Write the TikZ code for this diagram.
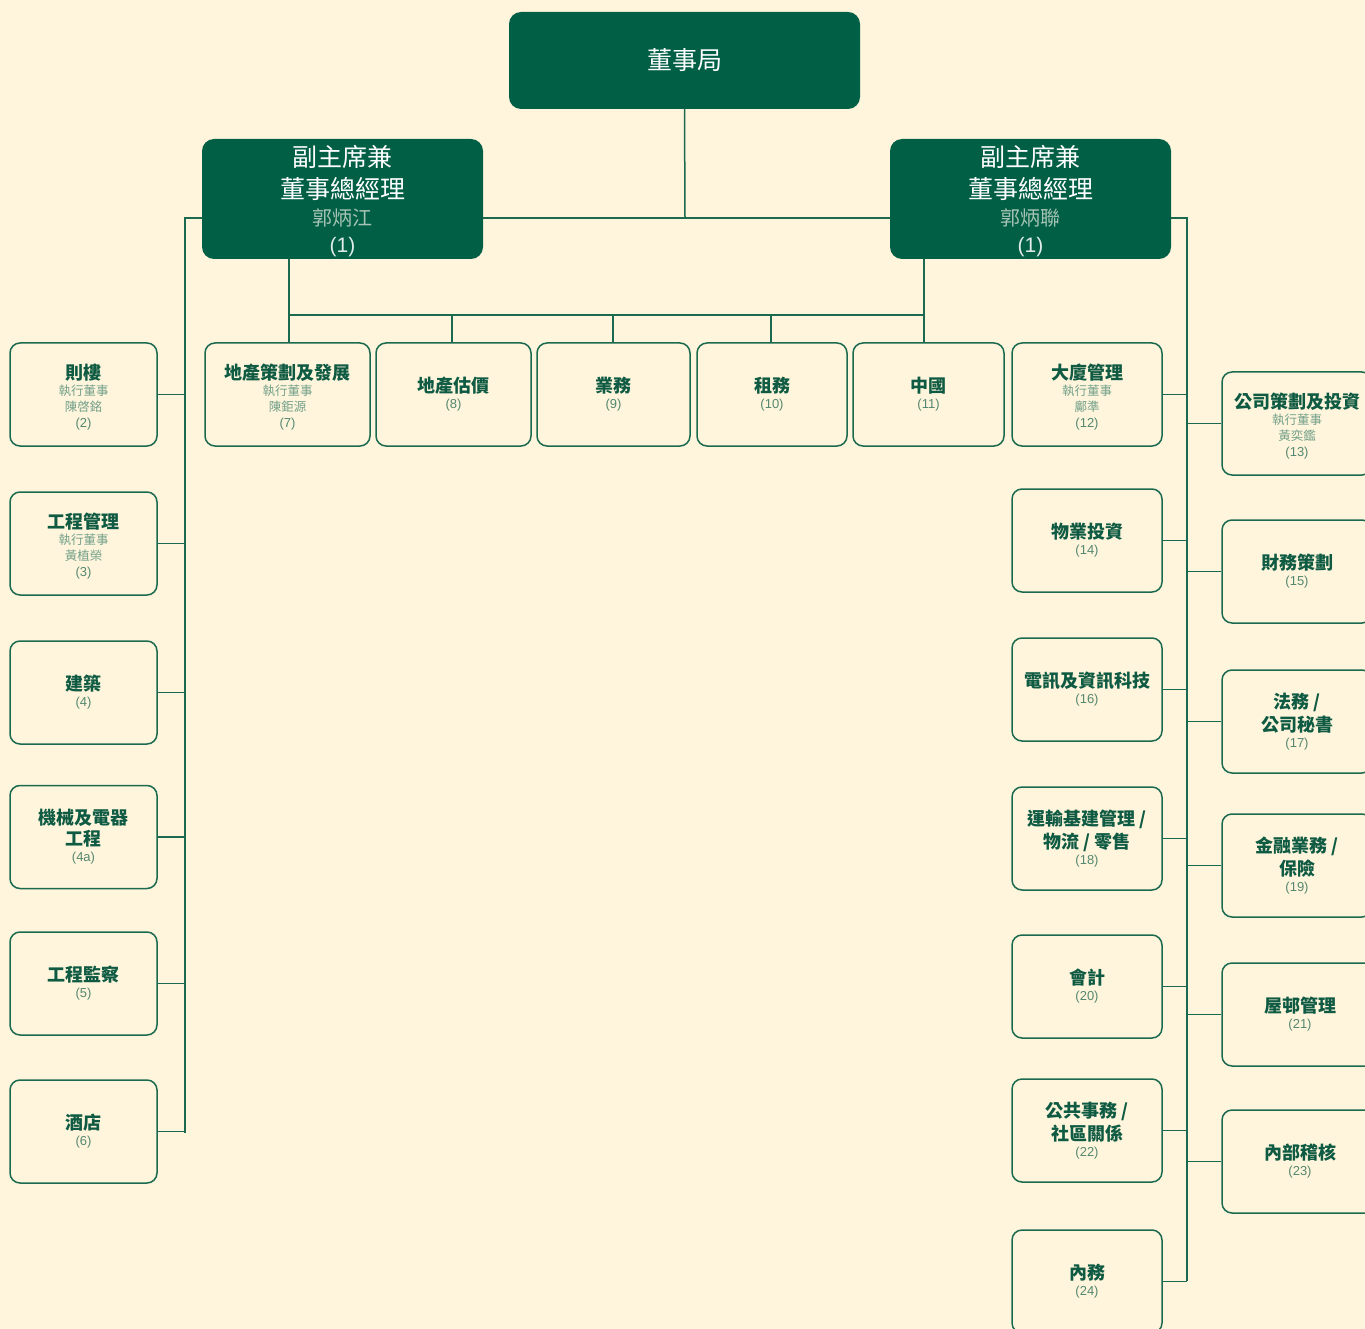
\documentclass[tikz,border=0pt]{standalone}
\usepackage{fontspec}
\setmainfont{Noto Sans CJK TC}
\newfontfamily\arialf{Liberation Sans}
\definecolor{bgc}{HTML}{FEF5DC}
\definecolor{darkg}{HTML}{015F46}
\definecolor{linec}{HTML}{1B6A50}
\definecolor{ttlc}{HTML}{0F5A42}
\definecolor{subc}{HTML}{74A08A}
\definecolor{numc}{HTML}{55876F}
\definecolor{vpname}{HTML}{A6C4B3}
\newcommand\ttl{\fontsize{18}{20}\selectfont\bfseries\color{ttlc}}
\newcommand\ttlx{\ttl\rule{0pt}{20pt}}
\newcommand\sbt{\fontsize{12.5}{16}\selectfont\color{subc}}
\newcommand\nmb{\arialf\fontsize{13}{16}\selectfont\color{numc}}
\newcommand\vpt{\fontsize{25}{32}\selectfont\color{white}}
\newcommand\vpn{\fontsize{20}{27}\selectfont\color{vpname}}
\newcommand\vpo{\arialf\fontsize{21}{27}\selectfont\color{white!88!darkg}}
\tikzset{
  unitbox/.style={draw=linec, line width=1.5pt, rounded corners=10pt, fill=bgc,
    align=center, inner sep=0pt, minimum height=103pt, font=\fontsize{13}{16}\selectfont},
  darkbox/.style={fill=darkg, rounded corners=12pt, align=center, inner sep=0pt,
    font=\fontsize{20}{27}\selectfont},
  conn/.style={draw=linec, line width=1.5pt}
}
\begin{document}
\begin{tikzpicture}[x=1pt,y=-1pt]
\fill[bgc] (0,0) rectangle (1365,1329);
\clip (0,0) rectangle (1365,1329);
\useasboundingbox (0,0) rectangle (1365,1329);

% top boxes
\node[darkbox, minimum width=351pt, minimum height=97pt] (board) at (684.5,60.5)
  {\fontsize{25}{30}\selectfont\color{white}董事局};
\node[darkbox, minimum width=281pt, minimum height=120pt] (vpl) at (342.5,199)
  {{\vpt\rule{0pt}{26pt}副主席兼}\\[5pt]{\vpt 董事總經理}\\{\vpn 郭炳江}\\{\vpo (1)}};
\node[darkbox, minimum width=281pt, minimum height=120pt] (vpr) at (1030.5,199)
  {{\vpt\rule{0pt}{26pt}副主席兼}\\[5pt]{\vpt 董事總經理}\\{\vpn 郭炳聯}\\{\vpo (1)}};

% left column
\node[unitbox, minimum width=147pt] (l2) at (83.5,394.5)
  {{\ttlx 則樓}\\{\sbt 執行董事}\\{\sbt 陳啓銘}\\{\nmb (2)}};
\node[unitbox, minimum width=147pt] (l3) at (83.5,543.5)
  {{\ttlx 工程管理}\\{\sbt 執行董事}\\{\sbt 黃植榮}\\{\nmb (3)}};
\node[unitbox, minimum width=147pt] (l4) at (83.5,692.5)
  {{\ttl 建築}\\{\nmb (4)}};
\node[unitbox, minimum width=147pt] (l4a) at (83.5,837)
  {{\ttl 機械及電器}\\[3pt]{\ttl 工程}\\{\nmb (4a)}};
\node[unitbox, minimum width=147pt] (l5) at (83.5,983.5)
  {{\ttl 工程監察}\\{\nmb (5)}};
\node[unitbox, minimum width=147pt] (l6) at (83.5,1131.5)
  {{\ttl 酒店}\\{\nmb (6)}};

% middle row
\node[unitbox, minimum width=165pt] (m7) at (287.5,394.5)
  {{\ttlx 地產策劃及發展}\\{\sbt 執行董事}\\{\sbt 陳鉅源}\\{\nmb (7)}};
\node[unitbox, minimum width=155pt] (m8) at (453.5,394.5)
  {{\ttl 地產估價}\\{\nmb (8)}};
\node[unitbox, minimum width=153pt] (m9) at (613.5,394.5)
  {{\ttl 業務}\\{\nmb (9)}};
\node[unitbox, minimum width=150pt] (m10) at (772,394.5)
  {{\ttl 租務}\\{\nmb (10)}};
\node[unitbox, minimum width=151pt] (m11) at (928.5,394.5)
  {{\ttl 中國}\\{\nmb (11)}};

% right inner column
\node[unitbox, minimum width=150pt] (r12) at (1087,394.5)
  {{\ttlx 大廈管理}\\{\sbt 執行董事}\\{\sbt 鄺準}\\{\nmb (12)}};
\node[unitbox, minimum width=150pt] (r14) at (1087,540.5)
  {{\ttl 物業投資}\\{\nmb (14)}};
\node[unitbox, minimum width=150pt] (r16) at (1087,689.5)
  {{\ttl 電訊及資訊科技}\\{\nmb (16)}};
\node[unitbox, minimum width=150pt] (r18) at (1087,838.5)
  {{\ttl 運輸基建管理 /}\\[3pt]{\ttl 物流 / 零售}\\{\nmb (18)}};
\node[unitbox, minimum width=150pt] (r20) at (1087,986.5)
  {{\ttl 會計}\\{\nmb (20)}};
\node[unitbox, minimum width=150pt] (r22) at (1087,1130.5)
  {{\ttl 公共事務 /}\\[3pt]{\ttl 社區關係}\\{\nmb (22)}};
\node[unitbox, minimum width=150pt] (r24) at (1087,1281.5)
  {{\ttl 內務}\\{\nmb (24)}};

% right outer column
\node[unitbox, minimum width=150pt] (r13) at (1297,423.5)
  {{\ttlx 公司策劃及投資}\\{\sbt 執行董事}\\{\sbt 黃奕鑑}\\{\nmb (13)}};
\node[unitbox, minimum width=150pt] (r15) at (1297,571.5)
  {{\ttl 財務策劃}\\{\nmb (15)}};
\node[unitbox, minimum width=150pt] (r17) at (1297,721.5)
  {{\ttl 法務 /}\\[3pt]{\ttl 公司秘書}\\{\nmb (17)}};
\node[unitbox, minimum width=150pt] (r19) at (1297,865.5)
  {{\ttl 金融業務 /}\\[3pt]{\ttl 保險}\\{\nmb (19)}};
\node[unitbox, minimum width=156pt] (r21) at (1300,1014.5)
  {{\ttl 屋邨管理}\\{\nmb (21)}};
\node[unitbox, minimum width=156pt] (r23) at (1300,1161.5)
  {{\ttl 內部稽核}\\{\nmb (23)}};

% coordinates
\coordinate (hub) at (685,218);
\coordinate (busLt) at (185,218);
\coordinate (busLb) at (185,1133);
\coordinate (busRt) at (1187,218);
\coordinate (busRb) at (1187,1281);
\coordinate (midL) at (289,315);
\coordinate (midR) at (924,315);

% connectors
\draw[conn] (board.south) -- (hub);
\draw[conn] (vpl.east |- hub) -- (vpr.west |- hub);
\draw[conn] (vpl.west |- hub) -- (busLt) -- (busLb);
\draw[conn] (vpr.east |- hub) -- (busRt) -- (busRb);
\draw[conn] (vpl.south -| midL) -- (midL) -- (midR) -- (vpr.south -| midR);
\draw[conn] (midL) -- (m7.north -| midL);
\foreach \n/\x in {m8/452, m9/613, m10/771, m11/924}
  \draw[conn] (\x,315) -- (\n.north -| {(\x,0)});
\foreach \n in {l2,l3,l4,l4a,l5,l6}
  \draw[conn] (\n.east) -- (\n.east -| busLt);
\foreach \n in {r12,r14,r16,r18,r20,r22,r24}
  \draw[conn] (\n.east) -- (\n.east -| busRt);
\foreach \n in {r13,r15,r17,r19,r21,r23}
  \draw[conn] (\n.west) -- (\n.west -| busRt);
\end{tikzpicture}
\end{document}
